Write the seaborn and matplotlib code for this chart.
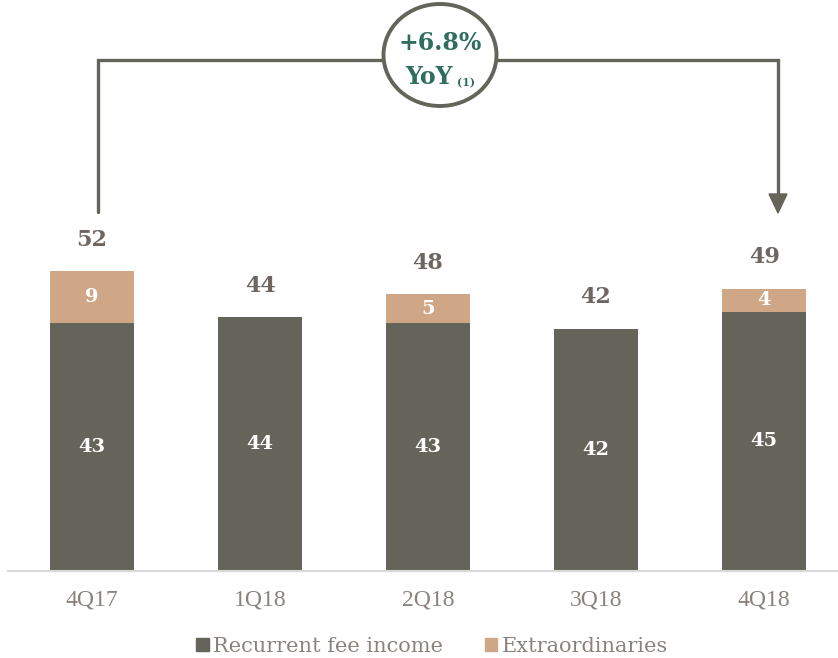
import matplotlib
matplotlib.use("Agg")
import matplotlib.pyplot as plt
import seaborn as sns
import pandas as pd
from matplotlib.patches import Ellipse, Polygon, Patch
from matplotlib.lines import Line2D

quarters = ["4Q17", "1Q18", "2Q18", "3Q18", "4Q18"]
recurrent = [43, 44, 43, 42, 45]
extraordinary = [9, 0, 5, 0, 4]
totals = [52, 44, 48, 42, 49]
yoy_text = "+6.8%"

C_DARK = "#64645a"
C_EXTRA = "#cfa686"
C_TXT = "#6e6661"
C_TICK = "#8c827d"
C_GREEN = "#2f6e5f"

sns.set_theme(style="white")
W, H = 838, 658
fig = plt.figure(figsize=(W / 100, H / 100), dpi=100)
ax = fig.add_axes([8 / W, 87 / H, 830 / W, 571 / H])

df = pd.DataFrame({"q": quarters, "rec": recurrent, "ext": extraordinary,
                   "tot": [r + e for r, e in zip(recurrent, extraordinary)]})

sns.barplot(data=df, x="q", y="tot", color=C_EXTRA, saturation=1, width=0.5,
            linewidth=0, ax=ax)
sns.barplot(data=df, x="q", y="rec", color=C_DARK, saturation=1, width=0.5,
            linewidth=0, ax=ax)

ax.set_xlim(-0.5, 4.44)
ax.set_ylim(0, 99.1)
ax.set_xlabel("")
ax.set_ylabel("")
ax.set_yticks([])
for s in ["top", "right", "left"]:
    ax.spines[s].set_visible(False)
ax.spines["bottom"].set_color("#d9d9d9")
ax.spines["bottom"].set_linewidth(1.5)
ax.tick_params(axis="x", length=0, pad=13, labelsize=17, labelcolor=C_TICK)
for lab in ax.get_xticklabels():
    lab.set_fontfamily("Liberation Serif")

for i, (r, e, t) in enumerate(zip(recurrent, extraordinary, totals)):
    ax.text(i, r / 2, str(r), ha="center", va="center", color="white",
            fontsize=14, fontweight="bold", family="DejaVu Serif")
    if e > 0:
        ax.text(i, r + e / 2, str(e), ha="center", va="center", color="white",
                fontsize=14, fontweight="bold", family="DejaVu Serif")
    ax.text(i, r + e + 5.5, str(t), ha="center", va="center", color=C_TXT,
            fontsize=16, fontweight="bold", family="DejaVu Serif")

def fx(x):
    return x / W

def fy(y):
    return 1 - y / H

# bracket
xs = [98, 98, 778, 778]
ys = [212, 60, 60, 198]
fig.add_artist(Line2D([fx(x) for x in xs], [fy(y) for y in ys], color=C_DARK,
                      lw=2.4, transform=fig.transFigure, solid_joinstyle="miter"))
tri = Polygon([[fx(769), fy(194)], [fx(787), fy(194)], [fx(778), fy(213)]],
              closed=True, color=C_DARK, transform=fig.transFigure)
fig.add_artist(tri)
ell = Ellipse((fx(440), fy(55)), 113 / W, 102 / H, facecolor="white",
              edgecolor=C_DARK, lw=2.8, transform=fig.transFigure, zorder=5)
fig.add_artist(ell)
fig.text(fx(440), fy(43), yoy_text, ha="center", va="center", color=C_GREEN,
         fontsize=17, fontweight="bold", family="DejaVu Serif", zorder=6)
fig.text(fx(429), fy(77), "YoY", ha="center", va="center", color=C_GREEN,
         fontsize=17, fontweight="bold", family="DejaVu Serif", zorder=6)
fig.text(fx(466), fy(83), "(1)", ha="center", va="center", color=C_GREEN,
         fontsize=8, fontweight="bold", family="DejaVu Serif", zorder=6)

# legend
handles = [Patch(color=C_DARK, label="Recurrent fee income"),
           Patch(color=C_EXTRA, label="Extraordinaries")]
leg = fig.legend(handles=handles, loc="center", bbox_to_anchor=(fx(432), fy(646)),
                 ncol=2, frameon=False, handlelength=0.6, handleheight=0.6,
                 handletextpad=0.2, columnspacing=2.0,
                 prop={"family": "DejaVu Serif", "size": 15})
for t in leg.get_texts():
    t.set_color(C_TICK)

fig.savefig("out.png", dpi=100)
